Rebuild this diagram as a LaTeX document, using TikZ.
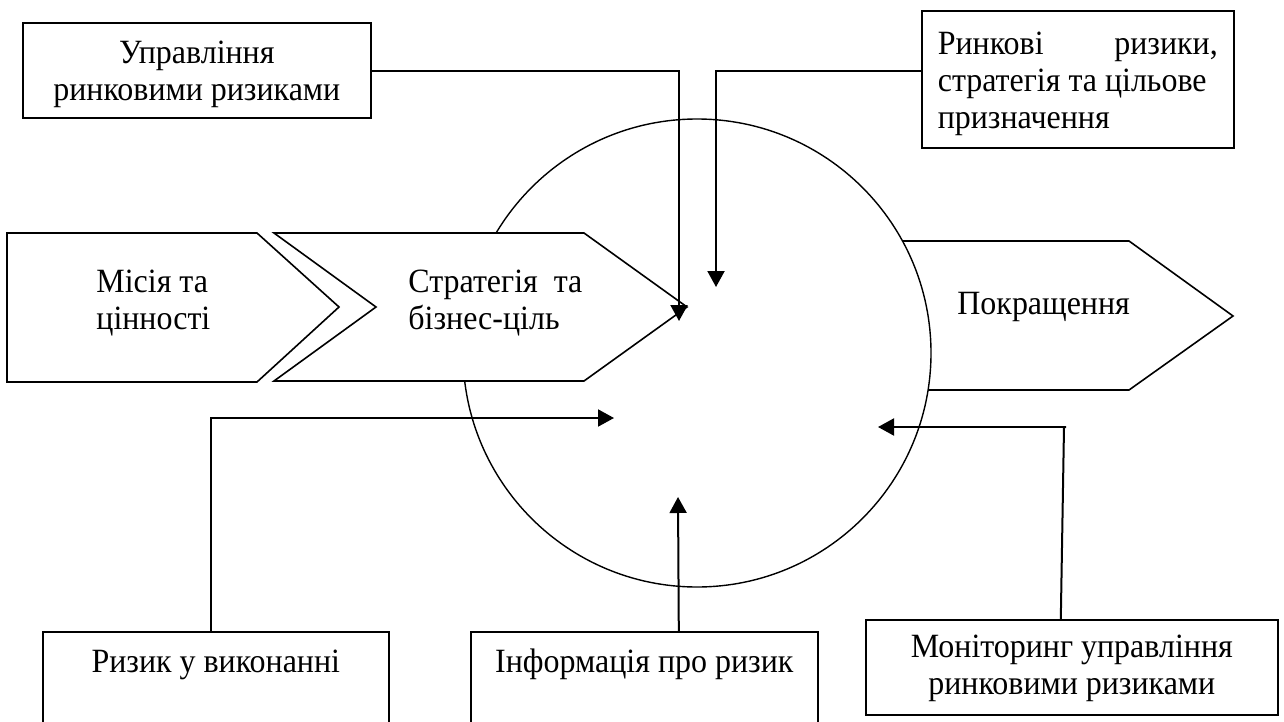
\documentclass[tikz,border=0pt]{standalone}
\usepackage{fontspec}
\setmainfont{Liberation Serif}[FakeStretch=0.94]
\usetikzlibrary{arrows.meta}
% text block: declared height above first baseline, depth below it
\newcommand{\mytb}[4]{\raisebox{0pt}[#1][#2]{\begin{tabular}[t]{@{}#3@{}}#4\end{tabular}}}
\begin{document}
\begin{tikzpicture}[x=0.5pt,y=-0.5pt,
  every node/.style={font=\fontsize{17}{18.5}\selectfont},
  box/.style={draw, line width=0.8pt, inner sep=0pt, fill=white},
  txt/.style={inner sep=0pt},
  shapeline/.style={draw, line width=0.8pt, fill=white, line join=miter},
  link/.style={line width=1pt},
  conn/.style={line width=1pt, -{Triangle[length=8pt,width=8.5pt]}}]
\useasboundingbox (0,0) rectangle (1284,722);
\clip (0,0) rectangle (1284,722);

% arrow shape "Покращення" (under the circle)
\draw[shapeline] (860,241) -- (1129,241) -- (1233,316) -- (1129,390) -- (860,390) -- cycle;
% circle
\node[draw, circle, line width=0.7pt, fill=white, minimum size=234pt, inner sep=0pt] (circ) at (697,353) {};
% arrow shapes
\draw[shapeline] (7,233) -- (257,233) -- (339,307) -- (257,382) -- (7,382) -- cycle;
\draw[shapeline] (274,233) -- (584,233) -- (687,307) -- (584,381) -- (274,381) -- (376,307) -- cycle;

\node[txt, anchor=base west] (mis) at (96,292) {\begin{tabular}[t]{@{}l@{}}Місія та\\цінності\end{tabular}};
\node[txt, anchor=base west] (str) at (408,292) {\begin{tabular}[t]{@{}l@{}}Стратегія\ \ та\\бізнес-ціль\end{tabular}};
\node[txt, anchor=base west] (pok) at (957,314) {Покращення};

% boxes
\node[box, anchor=north west, minimum width=174pt] (b1) at (22,22)
  {\mytb{20.5pt}{27pt}{c}{Управління\\ринковими ризиками}};
\node[box, anchor=north west, minimum width=156pt] (b2) at (921,10)
  {\raisebox{0pt}[22pt][46.5pt]{\parbox[t]{140pt}{\raggedright Ринкові\hfill ризики,\\стратегія та цільове\\призначення}}\hspace{10pt}};
\node[box, anchor=north west, minimum width=173pt] (b3) at (42,631)
  {\mytb{20.5pt}{60pt}{c}{Ризик у виконанні}};
\node[box, anchor=north west, minimum width=173.5pt] (b4) at (470,631)
  {\mytb{20.5pt}{60pt}{c}{Інформація про ризик}};
\node[box, anchor=north west, minimum width=206pt] (b5) at (865,619)
  {\mytb{19pt}{28.5pt}{c}{Моніторинг управління\\ринковими ризиками}};

% connector end points
\coordinate (t1) at (679,321);
\coordinate (t2) at (716,287);
\coordinate (t3) at (614,418);
\coordinate (t4) at (678,497);
\coordinate (c5) at (1064,427);
\coordinate (t5) at (878,427);

% connectors
\draw[conn] ([yshift=-0.25pt]b1.east) -| (t1);
\draw[conn] ([yshift=4.25pt]b2.west) -| (t2);
\draw[conn] ([xshift=-2.5pt]b3.north) |- (t3);
\draw[conn] ([xshift=17.25pt]b4.north) -- (t4);
\draw[link] ([xshift=-5.5pt]b5.north) -- (c5) -- ++(2,0);
\draw[conn] (c5) -- (t5);
\end{tikzpicture}
\end{document}
